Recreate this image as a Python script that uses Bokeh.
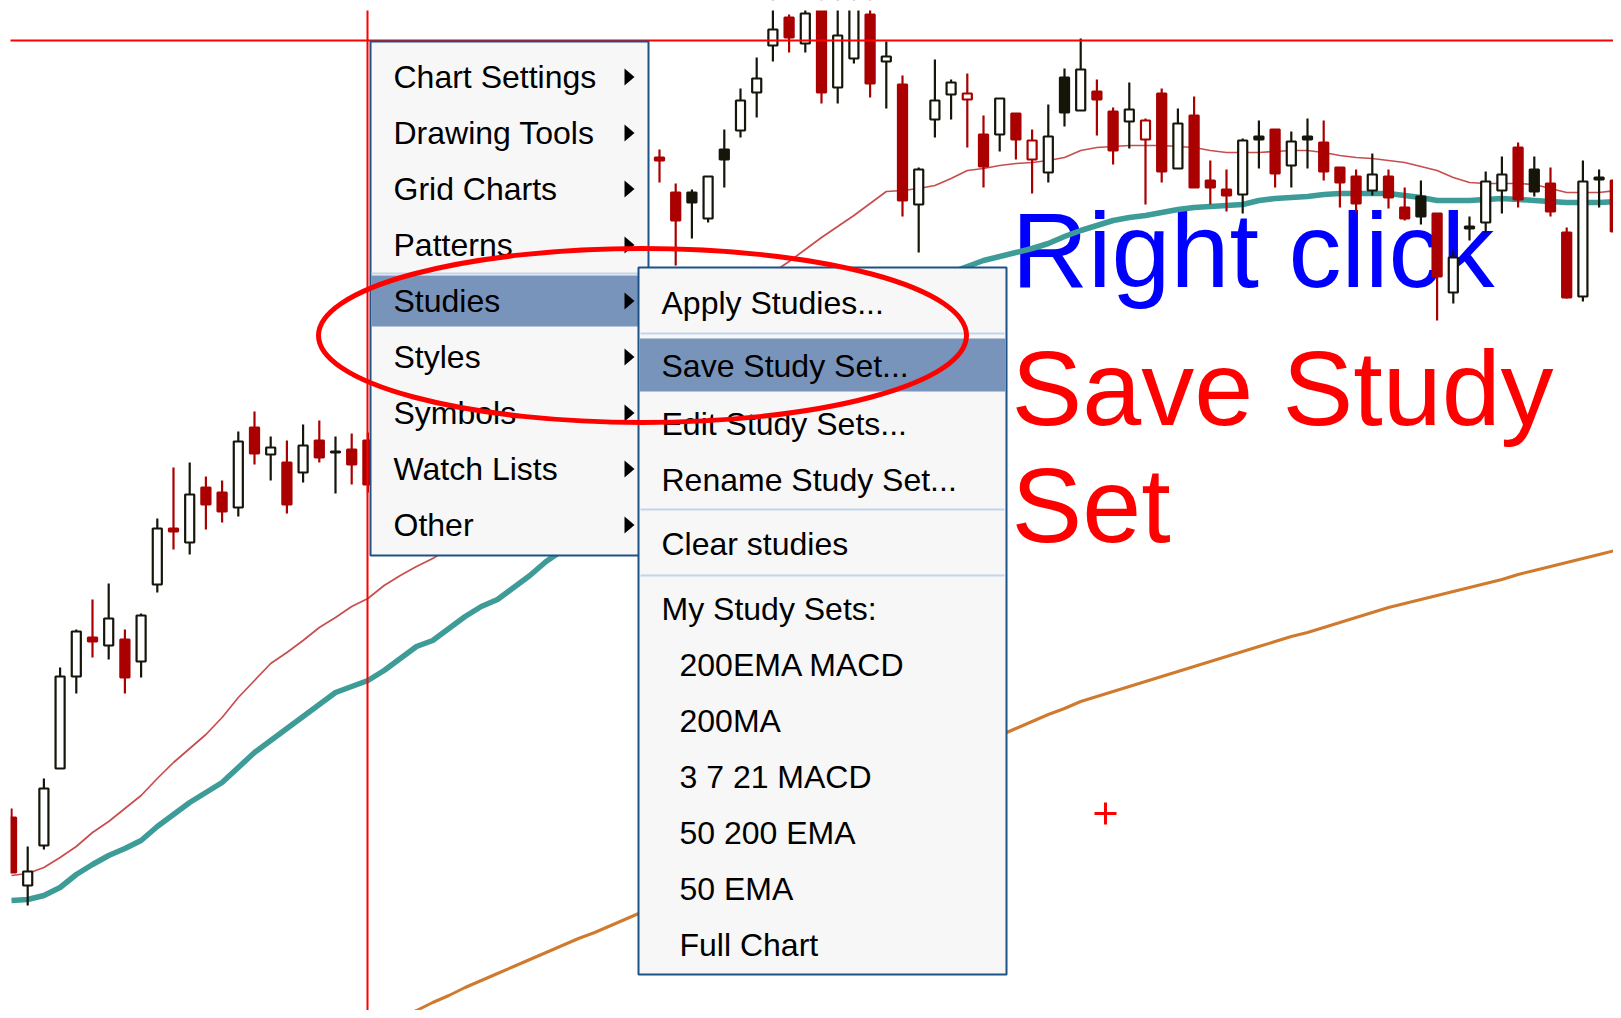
import numpy as np
from bokeh.plotting import figure
from bokeh.models import Range1d, ColumnDataSource
from bokeh.embed import file_html
from bokeh.resources import INLINE
from bokeh.core.properties import value

N = None

# ---------------- price data (bar index -> OHLC) ----------------
bar_idx = [0, 1, 2, 3, 4, 5, 6, 7, 8, 9, 10, 11, 12, 13, 14, 15, 16, 17, 18, 19, 20, 21, 22,
           39, 40, 41, 42, 43, 44, 45, 46, 47, 48, 49, 50, 51, 52, 53, 54, 55, 56, 57, 58, 59,
           60, 61, 62, 63, 64, 65, 66, 67, 68, 69, 70, 71, 72, 73, 74, 75, 76, 77, 78, 79,
           80, 81, 82, 83, 84, 85, 86, 87, 88, 89, 90, 91, 92, 93, 94, 95, 96, 97, 98, 99]
opens = [283, 215, 255, 332, 424, 463, 455, 461, 439, 516, 572, 558, 613, 608, 593, 673, 646, 638, 628, 660, 648, 651, 660,
         948, 943, 908, 908, 882, 951, 970, 1008, 1055, 1083, 1057, 1095, 1013, 1042, 1086, 1039, 1016, 896, 981, 1006, 1001,
         966, 966, 987, 941, 928, 1023, 990, 1009, 989, 979, 961, 1007, 932, 985, 920, 911, 906, 964, 971, 935,
         964, 958, 933, 924, 910, 924, 893, 904, 887, 808, 874, 878, 910, 953, 931, 917, 868, 804, 923, 920]
highs = [292, 254, 322, 433, 471, 501, 517, 471, 487, 582, 633, 638, 624, 620, 669, 689, 664, 660, 676, 680, 664, 667, 668,
         952, 951, 917, 911, 924, 971, 1012, 1043, 1100, 1086, 1095, 1100, 1100, 1100, 1100, 1059, 1025, 933, 1041, 1021, 1027,
         985, 1002, 987, 971, 996, 1032, 1062, 1021, 993, 1018, 982, 1012, 992, 1004, 940, 931, 962, 980, 971, 969,
         982, 980, 933, 931, 947, 931, 913, 920, 887, 850, 884, 929, 944, 958, 944, 933, 873, 940, 931, 940]
lows = [228, 195, 251, 332, 407, 443, 441, 407, 423, 508, 551, 546, 571, 578, 584, 636, 620, 587, 618, 638, 607, 616, 608,
        936, 918, 835, 862, 878, 913, 963, 983, 1039, 1048, 1048, 997, 997, 1037, 1003, 992, 884, 848, 963, 981, 953,
        913, 949, 941, 907, 918, 974, 990, 965, 936, 952, 896, 918, 932, 913, 896, 889, 887, 932, 913, 913,
        932, 920, 893, 888, 905, 892, 880, 876, 780, 797, 860, 868, 887, 893, 904, 884, 802, 799, 893, 859]
closes = [228, 229, 312, 424, 469, 459, 482, 423, 485, 572, 569, 606, 596, 589, 659, 647, 653, 596, 655, 643, 649, 636, 616,
          940, 940, 880, 898, 924, 941, 1000, 1022, 1071, 1063, 1087, 1008, 1065, 1095, 1017, 1044, 900, 931, 1000, 1018, 1007,
          934, 1002, 961, 960, 964, 988, 1031, 1001, 950, 991, 980, 929, 977, 913, 913, 905, 960, 961, 927, 959,
          961, 929, 918, 897, 926, 903, 882, 884, 824, 843, 872, 919, 926, 901, 909, 889, 803, 919, 921, 869]
# colour against the previous close: r = lower, k = higher
tone = ["r", "k", "k", "k", "k", "r", "k", "r", "k", "k", "r", "k", "r", "r", "k", "r", "k", "r", "k", "r", "k", "r", "r",
        "k", "r", "r", "k", "k", "k", "k", "k", "k", "r", "k", "r", "k", "k", "r", "k", "r", "k", "k", "k", "r",
        "r", "k", "r", "r", "k", "k", "k", "r", "r", "k", "r", "r", "k", "r", "r", "r", "k", "k", "r", "k",
        "k", "r", "r", "r", "k", "r", "r", "k", "r", "k", "k", "k", "k", "r", "k", "r", "r", "k", "k", "r"]

# ---------------- moving averages, one value per bar 0..99 ----------------
ma_fast = [225, 227, 233, 243, 254, 268, 279, 292, 305, 322, 338, 352, 366, 383, 403, 420, 437, 448, 460, 473,
           483, 494, 502, 515, 525, 534, 542, 552, N, N, N, N, N, N, N, N, N, N, N, N,
           N, N, N, N, N, N, N, 828, 839, 851, 863, 874, 885, 897, 909, 910, 912, 915, 922, 930,
           932, 935, 937, 938, 940, 943, 950, 953, 954, 955, 955, 955, 954, 953, 950, 948, 948, 948, 949, 950,
           950, 948, 945, 943, 942, 940, 938, 934, 930, 923, 918, 917, 917, 917, 916, 912, 908, 908, 908, 910]
ma_mid = [200, 201, 205, 213, 226, 236, 245, 252, 260, 274, 286, 298, 308, 318, 333, 348, 360, 372, 384, 396,
          408, 414, 420, 430, 442, 454, 460, 472, 484, 494, 501, 513, 525, 539, 550, N, N, N, N, N,
          N, N, N, N, N, N, N, N, N, N, N, N, N, N, N, N, N, N, 828, 834,
          840, 844, 848, 852, 857, 864, 870, 875, 880, 883, 885, 888, 891, 893, 894, 895, 896, 900, 902, 903,
          904, 906, 907, 907, 907, 907, 905, 903, 900, 900, 900, 901, 902, 901, 900, 899, 898, 898, 898, 899]
ma_slow = [N, N, N, N, N, N, N, N, N, N, N, N, N, N, N, N, N, N, N, N,
           N, N, N, 75, 83, 90, 98, 105, 113, 120, 127, 134, 141, 148, 155, 162, 168, 175, 182, 189,
           N, N, N, N, N, N, N, N, N, N, N, N, N, N, N, N, N, N, N, N,
           N, 365, 372, 379, 386, 392, 399, 404, 409, 414, 419, 424, 429, 434, 439, 444, 449, 454, 459, 464,
           468, 473, 478, 483, 488, 493, 497, 501, 505, 509, 513, 517, 521, 526, 530, 534, 538, 542, 546, 550]

# ---------------- menu texts ----------------
main_items = ["Chart Settings", "Drawing Tools", "Grid Charts", "Patterns", "Studies",
              "Styles", "Symbols", "Watch Lists", "Other"]
sub_items = ["Apply Studies...", "Save Study Set...", "Edit Study Sets...", "Rename Study Set...",
             "Clear studies", "My Study Sets:"]
study_sets = ["200EMA MACD", "200MA", "3 7 21 MACD", "50 200 EMA", "50 EMA", "Full Chart"]
notes = ["Right click", "Save Study", "Set"]

RED = "#aa0000"
BLK = "#15150a"
FONT = value("Liberation Sans")

p = figure(width=1613, height=1010, x_range=Range1d(-0.679, 98.889), y_range=Range1d(90, 1100),
           output_backend="svg", toolbar_location=None, min_border=0, title=None,
           x_axis_location=None, y_axis_location=None, outline_line_color=None,
           background_fill_color="white", border_fill_color="white")
p.grid.visible = False
p.extra_x_ranges = {"px": Range1d(0, 1613)}
p.extra_y_ranges = {"px": Range1d(1010, 0)}
PX = dict(x_range_name="px", y_range_name="px")

# annotation text (behind the chart marks)
p.text(x=[1011, 1011, 1011], y=[249, 387, 504], text=notes,
       text_color=["#0000ff", "#ff0000", "#ff0000"], text_font=FONT, text_font_size="106px",
       text_baseline="middle", text_align="left", **PX)

xs_all = np.arange(100)
p.line(xs_all, np.array(ma_slow, dtype=float), line_color="#cf7a2c", line_width=3)
p.line(xs_all, np.array(ma_mid, dtype=float), line_color="#3d9c98", line_width=5.5)
p.line(xs_all, np.array(ma_fast, dtype=float), line_color="#c23a3a", line_width=1.7, line_alpha=0.9)

o = np.array(opens, float); c = np.array(closes, float)
col = [RED if t == "r" else BLK for t in tone]
fill = [cc if cl < op else "white" for cc, op, cl in zip(col, o, c)]
src = ColumnDataSource(dict(x=bar_idx, o=o, h=highs, l=lows, c=c,
                            top=np.maximum(o, c), bottom=np.minimum(o, c), col=col, fill=fill))
p.segment(x0="x", y0="l", x1="x", y1="h", line_color="col", line_width=2.2, source=src)
p.vbar(x="x", width=0.56, top="top", bottom="bottom", fill_color="fill", line_color="col",
       line_width=2.2, source=src)

# chart frame edge (top/left clipping)
p.quad(left=[0, 0], right=[1613, 10], top=[0, 0], bottom=[10, 1010], fill_color="white",
       line_color=None, **PX)

# crosshair
p.segment(x0=[10, 367], y0=[40, 10], x1=[1613, 367], y1=[40, 1010], line_color="#ff0000",
          line_width=2, **PX)
p.scatter(x=[1105], y=[813], marker="cross", size=22, line_color="#ff0000", line_width=3, **PX)

# main context menu
MENU_BORDER = "#1d5287"
HL = "#7894bb"
SEP = "#c3d4ec"
p.quad(left=[370], right=[648], top=[41], bottom=[555], fill_color="#f7f7f7",
       line_color=MENU_BORDER, line_width=2, **PX)
p.segment(x0=[371], y0=[273], x1=[647], y1=[273], line_color=SEP, line_width=2, **PX)
p.quad(left=[371], right=[647], top=[275], bottom=[326], fill_color=HL, line_color=None, **PX)
main_mid = [76.5 + 56 * k for k in range(len(main_items))]
p.text(x=[393] * len(main_items), y=main_mid, text=main_items, text_color="black",
       text_font=FONT, text_font_size="32px", text_baseline="middle", **PX)
p.patches(xs=[[624, 624, 634]] * len(main_mid), ys=[[cy - 8.5, cy + 8.5, cy] for cy in main_mid],
          fill_color="black", line_color=None, **PX)

# studies sub-menu
p.quad(left=[638], right=[1006], top=[267], bottom=[974], fill_color="#f7f7f7",
       line_color=MENU_BORDER, line_width=2, **PX)
p.segment(x0=[640, 640, 640], y0=[333, 509, 575], x1=[1004, 1004, 1004], y1=[333, 509, 575],
          line_color=SEP, line_width=2, **PX)
p.quad(left=[639], right=[1005], top=[338], bottom=[391], fill_color=HL, line_color=None, **PX)
p.text(x=[661] * len(sub_items), y=[302.5, 365.5, 423.5, 479.5, 543.5, 608.5], text=sub_items,
       text_color="black", text_font=FONT, text_font_size="32px", text_baseline="middle", **PX)
p.text(x=[679] * len(study_sets), y=[664.5 + 56 * k for k in range(len(study_sets))], text=study_sets,
       text_color="black", text_font=FONT, text_font_size="32px", text_baseline="middle", **PX)

# hand-drawn ellipse
p.ellipse(x=[642], y=[335], width=[648], height=[174], fill_color=None, line_color="#ff0000",
          line_width=5, **PX)

open("out.html", "w").write(file_html(p, INLINE))
